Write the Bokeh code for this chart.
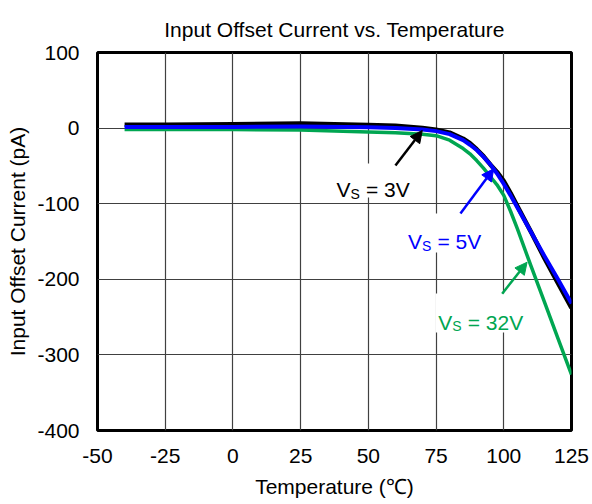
from bokeh.plotting import figure
from bokeh.models import Range1d, FixedTicker, Label, Arrow, NormalHead, BoxAnnotation
from bokeh.embed import file_html
from bokeh.resources import INLINE

# ---- data ----
temp = [-40, -25, 0, 25, 50, 60, 70, 75, 80, 85, 87.5, 90, 92.5, 95, 97.5, 100, 102.5,
        105, 110, 115, 120, 125]
vs3 = [4.5, 4.5, 5, 6, 4, 3, 0, -2, -6, -14, -20, -28, -37, -48, -58, -70, -86,
       -103, -137, -172, -205, -238]
vs5 = [1.5, 1.5, 1.5, 2, 1, 0, -2, -4, -8, -16, -22, -29, -38, -48, -60, -74, -89,
       -105, -137, -169, -200, -232]
vs32 = [-2, -2, -2, -2.5, -5, -6, -8, -10, -16, -27, -34, -43, -53, -64, -75, -89, -110,
        -133, -182, -230, -278, -326]

x_ticks = [-50, -25, 0, 25, 50, 75, 100, 125]
y_ticks = [-400, -300, -200, -100, 0, 100]

FONT = "Liberation Sans"
BLACK = "#000000"
BLUE = "#0000FF"
GREEN = "#00A651"

p = figure(width=592, height=504, output_backend="svg", toolbar_location=None,
           x_range=Range1d(-50, 125), y_range=Range1d(-400, 100),
           min_border_left=97, min_border_right=21, min_border_top=52, min_border_bottom=74)

p.title.text = "Input Offset Current vs. Temperature"
p.title.align = "center"
p.title.text_font = FONT
p.title.text_font_size = "21px"
p.title.text_font_style = "normal"
p.title.text_color = "#000000"
p.title.standoff = 23

p.outline_line_color = "black"
p.outline_line_width = 3
p.background_fill_color = "white"
p.border_fill_color = "white"

p.xaxis.ticker = FixedTicker(ticks=x_ticks)
p.yaxis.ticker = FixedTicker(ticks=y_ticks)
p.xaxis.major_label_overrides = {t: str(t) for t in x_ticks}
p.yaxis.major_label_overrides = {t: str(t) for t in y_ticks}
for ax in (p.xaxis, p.yaxis):
    ax.axis_line_color = None
    ax.major_tick_line_color = None
    ax.minor_tick_line_color = None
    ax.major_tick_out = 0
    ax.major_tick_in = 0
    ax.major_label_text_font = FONT
    ax.major_label_text_font_size = "21px"
    ax.major_label_text_color = "black"
    ax.axis_label_text_font = FONT
    ax.axis_label_text_font_size = "21px"
    ax.axis_label_text_font_style = "normal"
    ax.axis_label_text_color = "black"
p.xaxis.axis_label = "Temperature (\u2103)"
p.yaxis.axis_label = "Input Offset Current (pA)"
p.xaxis.major_label_standoff = 18
p.xaxis.axis_label_standoff = 9
p.yaxis.major_label_standoff = 18
p.yaxis.axis_label_standoff = 5

p.xgrid.ticker = FixedTicker(ticks=x_ticks)
p.ygrid.ticker = FixedTicker(ticks=y_ticks)
for g in (p.xgrid, p.ygrid):
    g.grid_line_color = "#404040"
    g.grid_line_width = 1.2

# curves
p.line(temp, vs3, line_color=BLACK, line_width=4.5, line_join="round")
p.line(temp, vs32, line_color=GREEN, line_width=3.5, line_join="round")
p.line(temp, vs5, line_color=BLUE, line_width=4, line_join="round")

# white label boxes
boxes = [(37.1, 65.6, -46.8, -91.8), (63.7, 92.9, -113, -164.6), (74.8, 107.6, -218.8, -270.4)]
for l, r, t, b in boxes:
    p.add_layout(BoxAnnotation(left=l, right=r, top=t, bottom=b,
                               fill_color="white", fill_alpha=1, line_color=None))

# arrows
arrows = [((60.0, -49.5), (69.9, -3.2), BLACK),
          ((84.0, -113.0), (96.3, -53.8), BLUE),
          ((99.4, -219.0), (108.6, -177.4), GREEN)]
for (x0, y0), (x1, y1), c in arrows:
    p.add_layout(Arrow(x_start=x0, y_start=y0, x_end=x1, y_end=y1,
                       line_color=c, line_width=2.5,
                       end=NormalHead(size=12, fill_color=c, line_color=c, line_width=1)))

def vs_label(x, y, txt, color):
    p.add_layout(Label(x=x, y=y, text="V", text_font=FONT, text_font_size="21px",
                       text_color=color, text_baseline="alphabetic"))
    p.add_layout(Label(x=x, y=y, x_offset=14, y_offset=-4, text="S", text_font=FONT,
                       text_font_size="14px", text_color=color, text_baseline="alphabetic"))
    p.add_layout(Label(x=x, y=y, x_offset=29.5, text="= " + txt, text_font=FONT,
                       text_font_size="21px", text_color=color, text_baseline="alphabetic"))

vs_label(38.2, -81.6, "3V", BLACK)
vs_label(64.6, -150.0, "5V", BLUE)
vs_label(75.8, -256.9, "32V", GREEN)

open("out.html", "w").write(file_html(p, INLINE))
